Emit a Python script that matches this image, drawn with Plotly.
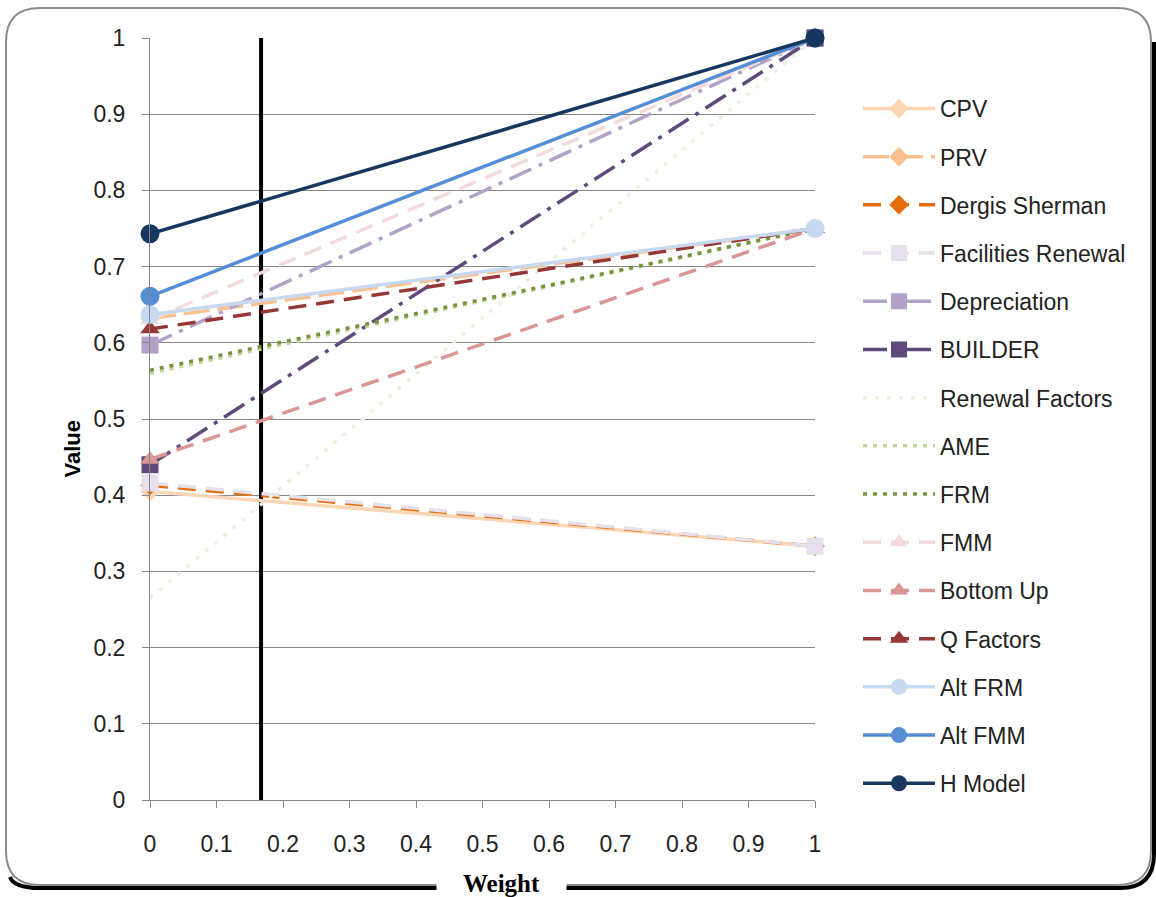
import plotly.graph_objects as go

# ---------------- data ----------------
weights = [0, 1]
series_names = ["CPV", "PRV", "Dergis Sherman", "Facilities Renewal", "Depreciation",
                "BUILDER", "Renewal Factors", "AME", "FRM", "FMM", "Bottom Up",
                "Q Factors", "Alt FRM", "Alt FMM", "H Model"]
values_at_0 = [0.405, 0.632, 0.413, 0.416, 0.597, 0.440, 0.265, 0.560, 0.564,
               0.630, 0.447, 0.618, 0.637, 0.661, 0.743]
values_at_1 = [0.333, 0.750, 0.333, 0.333, 1.000, 1.000, 1.000, 0.750, 0.750,
               1.000, 0.750, 0.750, 0.750, 1.000, 1.000]
cutoff_weight = 0.167
x_ticks = [0, 0.1, 0.2, 0.3, 0.4, 0.5, 0.6, 0.7, 0.8, 0.9, 1]
y_ticks = [0, 0.1, 0.2, 0.3, 0.4, 0.5, 0.6, 0.7, 0.8, 0.9, 1]

# ---------------- styles ----------------
colors = ["#FCD5B5", "#FAC090", "#E46C0A", "#E6E0EC", "#B3A2C7", "#604A7B",
          "#EBF1DE", "#C3D69B", "#77933C", "#F2DCDB", "#D99694", "#953735",
          "#C6D9F1", "#558ED5", "#17375E"]
dashes = ["solid", "26px,8px", "18px,10px", "18px,10px", "24px,8px,4px,8px",
          "24px,8px,4px,8px", "4px,8px", "4px,6px", "4px,6px", "18px,10px",
          "18px,10px", "18px,10px", "solid", "solid", "solid"]
symbols = ["diamond", "diamond", "diamond", "square", "square", "square", None, None,
           None, "triangle-up", "triangle-up", "triangle-up", "circle", "circle", "circle"]
msizes = [15, 15, 15, 17, 17, 17, 0, 0, 0, 17, 17, 17, 19, 19, 19]

W, H = 1156, 897
L, R, T, B = 150, 815, 38, 800


def px(x):
    return (x - L) / (R - L)


def py(y):
    return (B - y) / (B - T)


fig = go.Figure()

fig.add_trace(go.Scatter(x=[cutoff_weight, cutoff_weight], y=[0, 1], mode="lines",
                         line=dict(color="black", width=4), showlegend=False,
                         hoverinfo="skip", cliponaxis=False))

for i, name in enumerate(series_names):
    mode = "lines+markers" if symbols[i] else "lines"
    tr = dict(x=weights, y=[values_at_0[i], values_at_1[i]], name=name, mode=mode,
              line=dict(color=colors[i], width=3.5, dash=dashes[i]),
              legendgroup=name, cliponaxis=False)
    if symbols[i]:
        tr["marker"] = dict(symbol=symbols[i], size=msizes[i], color=colors[i],
                            line=dict(width=0))
    fig.add_trace(go.Scatter(**tr))

font_main = "Liberation Sans"


def rounded(x0, y0, x1, y1, r):
    return (f"M {px(x0 + r)},{py(y0)} L {px(x1 - r)},{py(y0)} Q {px(x1)},{py(y0)} {px(x1)},{py(y0 + r)} "
            f"L {px(x1)},{py(y1 - r)} Q {px(x1)},{py(y1)} {px(x1 - r)},{py(y1)} "
            f"L {px(x0 + r)},{py(y1)} Q {px(x0)},{py(y1)} {px(x0)},{py(y1 - r)} "
            f"L {px(x0)},{py(y0 + r)} Q {px(x0)},{py(y0)} {px(x0 + r)},{py(y0)} Z")


def shadow(x0, y0, x1, y1, r, d):
    return (f"M {px(x1 + d)},{py(y0 + r)} L {px(x1 + d)},{py(y1 - r + d)} "
            f"Q {px(x1 + d)},{py(y1 + d)} {px(x1 - r + d)},{py(y1 + d)} "
            f"L {px(x0 + r)},{py(y1 + d)} Q {px(x0 + 8)},{py(y1 + d)} {px(x0 + 4)},{py(y1 - 8)}")


bx0, by0, bx1, by1, rad = 6, 8, 1151, 885, 34
shapes = [
    dict(type="path", xref="paper", yref="paper", path=shadow(bx0, by0, bx1, by1, rad, 3),
         line=dict(color="black", width=4), layer="below"),
    dict(type="path", xref="paper", yref="paper", path=rounded(bx0, by0, bx1, by1, rad),
         line=dict(color="#8C8C8C", width=2), layer="below"),
]

annotations = [
    dict(text="<b>Value</b>", x=px(58), y=py(449), xref="paper", yref="paper",
         textangle=-90, showarrow=False, font=dict(family=font_main, size=22, color="black")),
    dict(text="<b>Weight</b>", x=px(502), y=py(883), xref="paper", yref="paper",
         showarrow=False, bgcolor="white", width=127, yanchor="middle",
         font=dict(family="Liberation Serif", size=25, color="black")),
]

fig.update_layout(
    width=W, height=H,
    margin=dict(l=L, r=W - R, t=T, b=H - B, pad=0),
    paper_bgcolor="rgba(0,0,0,0)", plot_bgcolor="rgba(0,0,0,0)",
    font=dict(family=font_main, size=18, color="#222222"),
    shapes=shapes, annotations=annotations,
    showlegend=True,
    legend=dict(x=px(858), y=py(87), xanchor="left", yanchor="top",
                traceorder="grouped", tracegroupgap=15.3, bgcolor="rgba(0,0,0,0)",
                font=dict(family=font_main, size=23, color="#222222"),
                itemwidth=72),
    xaxis=dict(range=[0, 1], tickvals=x_ticks, ticktext=[f"{v:g}" for v in x_ticks],
               showgrid=False, zeroline=False, showline=True, linecolor="#868686",
               linewidth=1, ticks="outside", ticklen=7, tickcolor="#868686",
               ticklabelstandoff=16,
               tickfont=dict(size=23, family=font_main, color="#222222")),
    yaxis=dict(range=[0, 1], tickvals=y_ticks, ticktext=[f"{v:g}" for v in y_ticks],
               showgrid=True, gridcolor="#868686", gridwidth=1, zeroline=False,
               showline=True, linecolor="#868686", linewidth=1, ticks="outside",
               ticklen=7, tickcolor="#868686", ticklabelstandoff=12,
               tickfont=dict(size=23, family=font_main, color="#222222")),
)

fig.write_html("out.html")
